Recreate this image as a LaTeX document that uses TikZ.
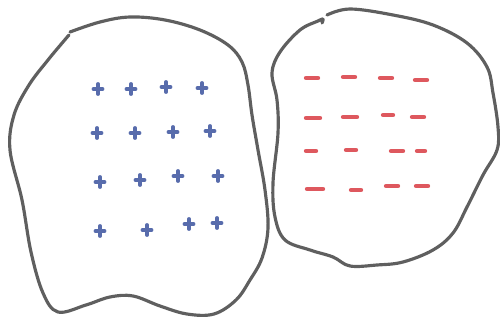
\documentclass[tikz,border=0pt]{standalone}
\usepackage{tikz}
\definecolor{pencil}{RGB}{95,95,95}
\definecolor{plusblue}{RGB}{88,108,172}
\definecolor{dashred}{RGB}{222,88,94}

\begin{document}
\begin{tikzpicture}[x=0.02cm, y=-0.02cm,
    blob/.style={draw=pencil, line width=1.8pt, line cap=round, line join=round},
    plusmark/.style={draw=plusblue, line width=2.2pt, line cap=round},
    dashmark/.style={draw=dashred, line width=2.5pt, line cap=round}]

    \useasboundingbox (0,0) rectangle (500,320);

    % --- Left blob ---
    \draw[blob] plot[smooth, tension=0.6] coordinates {
      (70,32) (100,22) (130,17) (165,20) (200,30) (228,45) (242,62)
      (248,85) (252,115) (258,150) (265,190) (268,228) (262,258)
      (250,280) (236,300) (214,314) (187,314) (160,306) (133,296)
      (110,297) (86,305) (58,312) (43,293) (31,252) (22,200)
      (10,150) (14,115) (29,85) (48,60) (63,42) (69,35)};

    % --- Right blob ---
    \draw[blob] plot[smooth, tension=0.6] coordinates {
      (327,15) (350,9) (393,15) (433,25) (467,43) (487,67) (493,93)
      (498,127) (497,150) (483,175) (467,207) (453,233) (433,250)
      (403,262) (377,265) (350,266) (333,257) (310,250) (285,240)
      (275,217) (273,183) (278,133) (277,100) (272,73) (280,52)
      (300,30) (318,21) (323,19) (322,23)};

    % --- Blue crosses ---
    \foreach \x/\y in {98/89, 131/89, 166/87, 202/88,
                       97/133, 135/133, 173/132, 210/131,
                       100/182, 140/180, 178/176, 218/176,
                       100/231, 147/230, 189/224, 217/223}
      \draw[plusmark] (\x-4.5,\y) -- (\x+4.5,\y) (\x,\y-5) -- (\x,\y+5);

    % --- Red dashes ---
    \foreach \x/\y/\w in {312/78/6, 349/77/6, 386/78/6, 421/80/6,
                          313/118/7, 350/117/7, 388/115/5, 418/117/6,
                          311/151/5, 351/150/5, 397/151/6, 421/151/4,
                          315/189/8, 356/190/5, 392/186/6, 422/186/6}
      \draw[dashmark] (\x-\w,\y) -- (\x+\w,\y);
  \end{tikzpicture}
\end{document}
